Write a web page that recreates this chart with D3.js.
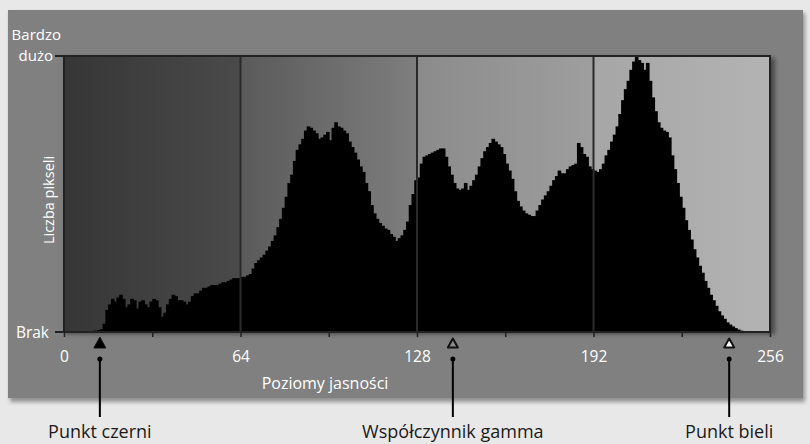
<!DOCTYPE html>
<html>
<head>
<meta charset="utf-8">
<script src="https://cdn.jsdelivr.net/npm/d3@7"></script>
<style>
  html, body { margin: 0; padding: 0; background: #e8e8e8; }
  svg { display: block; }
  text { font-family: "Open Sans", "Noto Sans", sans-serif; }
</style>
</head>
<body>
<svg id="chart" width="810" height="444"></svg>
<script>
// ---- data ----
const levelTicks = [0, 64, 128, 192, 256];
const minorTicks = [0, 32, 64, 96, 128, 160, 192, 224, 256];
const yLabelsTop = ["Bardzo", "dużo"];
const yLabelBottom = "Brak";
const yTitle = "Liczba pikseli";
const xTitle = "Poziomy jasności";
const markerLevels = [13, 141, 241.2];
const markerNames = ["Punkt czerni", "Współczynnik gamma", "Punkt bieli"];
const markerKinds = ["black", "gray", "white"];
// pixel counts per brightness level, as % of maximum (levels 0..255)
const counts0 = [
  0,0,0,0,0,0,0,0,0.3,0.3,0.4,0.5,0.7,1,3,8,
  10,12,11,12.5,13.5,12,9,10,12,11.5,8.5,11,11.5,10,9,11,
  12,11.5,9,5.5,7,10,12,13.5,13,11.5,11.5,11,10,11,13,14,
  14,15,16,16,16.5,17,17,17,17.5,18,18,18.5,19,19.5,19.5,19.5
];
const counts1 = [
  20,20,20.5,21,23,25,26,27,28,29.5,31,33,35,38,41,45,
  49,54,57,62,66,68,70,73,74.5,74,73,72,70,70.5,71.5,72.5,
  69.5,74,76,74.5,74,73,72,69,67,65,62.5,60,58,54,51,46,
  43,41,39.5,38.5,37.5,37,35.5,34.5,33,34,35,37,40,46,50,55
];
const counts2 = [
  56,61,63.5,64,64.5,65,65.5,66,66.5,66.5,63.5,60,57,54,52,51.5,
  52,54,51.5,53,55,57,60,63,65.5,67,68.5,70,69,68,67,64.5,
  61,58.5,55.5,51,47.5,45.5,44,43,42.5,42,42,44,46,48,49.5,51,
  53,55,56.5,58.5,57.5,57.5,59,60,60.5,61,68.5,67,64.5,63.5,60,59
];
const counts3 = [
  58.5,58,59,61,64,66,69,71.5,74.5,79,84,88,91,95,98,100,
  98.5,97.5,95,97.5,91,85,80,76,74,73,72.5,70.5,64,59,54,49,
  45,40.5,37,33.5,30,27,24,21.5,18.5,16,13.5,11.5,9.5,7.5,6,4.8,
  3.5,2.7,2,1.4,0.9,0.5,0.3,0.1,0,0,0,0,0,0,0,0
];
const counts = counts0.concat(counts1, counts2, counts3);

// ---- layout ----
const svg = d3.select("#chart");
const plot = { left: 64, right: 770, top: 56, bottom: 332 };
const x = d3.scaleLinear().domain([0, 256]).range([plot.left, plot.right]);
const y = d3.scaleLinear().domain([0, 100]).range([plot.bottom, plot.top]);

const defs = svg.append("defs");
const blur = defs.append("filter").attr("id", "shadow").attr("x", "-5%").attr("y", "-5%").attr("width", "110%").attr("height", "115%");
blur.append("feGaussianBlur").attr("stdDeviation", 2);

// panel shadow + panel
svg.append("rect").attr("x", 10).attr("y", 13).attr("width", 795).attr("height", 389)
  .attr("fill", "#555").attr("opacity", 0.6).attr("filter", "url(#shadow)");
svg.append("rect").attr("x", 8).attr("y", 10).attr("width", 795).attr("height", 388)
  .attr("fill", "#808080");

// plot frame shadow
svg.append("rect").attr("x", plot.left + 2).attr("y", plot.top + 2)
  .attr("width", plot.right - plot.left + 3).attr("height", plot.bottom - plot.top)
  .attr("fill", "#333").attr("opacity", 0.7).attr("filter", "url(#shadow)");

// background zones with gradients
const zoneColors = [["#363636", "#4a4a4a"], ["#5a5a5a", "#7e7e7e"], ["#8b8b8b", "#9e9e9e"], ["#a6a6a6", "#b3b3b3"]];
const zones = d3.range(4).map(i => ({ x0: i * 64, x1: (i + 1) * 64, c: zoneColors[i] }));
zones.forEach((z, i) => {
  const g = defs.append("linearGradient").attr("id", "zone" + i).attr("x1", "0").attr("x2", "1").attr("y1", "0").attr("y2", "0");
  g.append("stop").attr("offset", "0").attr("stop-color", z.c[0]);
  g.append("stop").attr("offset", "1").attr("stop-color", z.c[1]);
});
svg.append("g").selectAll("rect").data(zones).join("rect")
  .attr("x", d => x(d.x0)).attr("y", plot.top)
  .attr("width", d => x(d.x1) - x(d.x0)).attr("height", plot.bottom - plot.top)
  .attr("fill", (d, i) => `url(#zone${i})`);

// histogram bars
svg.append("g").selectAll("rect").data(counts).join("rect")
  .attr("x", (d, i) => x(i))
  .attr("y", d => y(d))
  .attr("width", (d, i) => x(i + 1) - x(i) + 0.9)
  .attr("height", d => y(0) - y(d))
  .attr("fill", "#000");

// separators
svg.append("g").selectAll("line").data([64, 128, 192]).join("line")
  .attr("x1", d => x(d)).attr("x2", d => x(d))
  .attr("y1", plot.top).attr("y2", plot.bottom)
  .attr("stroke", "#2a2a2a").attr("stroke-width", 2);

// frame
svg.append("rect").attr("x", plot.left).attr("y", plot.top)
  .attr("width", plot.right - plot.left).attr("height", plot.bottom - plot.top)
  .attr("fill", "none").attr("stroke", "#222").attr("stroke-width", 2);

// x axis
const xAxis = d3.axisBottom(x).tickValues(minorTicks).tickSizeInner(5).tickSizeOuter(0).tickPadding(14)
  .tickFormat(d => levelTicks.includes(d) ? d : "");
const gx = svg.append("g").attr("transform", `translate(0,${plot.bottom})`).call(xAxis);
gx.select(".domain").remove();
gx.selectAll(".tick line").attr("stroke", "#222").attr("stroke-width", 1.5);
gx.selectAll(".tick text").attr("fill", "#fff").attr("font-size", 15.5)
  .attr("font-family", "'Open Sans', 'Noto Sans', sans-serif");

// y ticks
svg.append("g").selectAll("line").data([100, 0]).join("line")
  .attr("x1", plot.left - 9).attr("x2", plot.left)
  .attr("y1", d => y(d)).attr("y2", d => y(d))
  .attr("stroke", "#222").attr("stroke-width", 2);

svg.append("text").attr("x", 61).attr("y", 40).attr("text-anchor", "end")
  .attr("fill", "#fff").attr("font-size", 15).text(yLabelsTop[0]);
svg.append("text").attr("x", 53).attr("y", 61).attr("text-anchor", "end")
  .attr("fill", "#fff").attr("font-size", 15).text(yLabelsTop[1]);
svg.append("text").attr("x", 49).attr("y", y(0) + 5.5).attr("text-anchor", "end")
  .attr("fill", "#fff").attr("font-size", 15.5).text(yLabelBottom);
svg.append("text").attr("transform", `translate(54,${(plot.top + plot.bottom) / 2 + 6}) rotate(-90)`)
  .attr("text-anchor", "middle").attr("fill", "#fff").attr("font-size", 14.5).text(yTitle);

// x title
svg.append("text").attr("x", 325).attr("y", 389).attr("text-anchor", "middle")
  .attr("fill", "#fff").attr("font-size", 16).text(xTitle);

// markers
const markers = markerLevels.map((l, i) => ({ level: l, name: markerNames[i], kind: markerKinds[i] }));
const mg = svg.append("g").selectAll("g").data(markers).join("g")
  .attr("transform", d => `translate(${x(d.level)},0)`);
mg.append("path")
  .attr("d", d => d.kind === "black" ? "M0,337 L6,348 L-6,348 Z" : "M0,338.5 L5,347.5 L-5,347.5 Z")
  .attr("fill", d => d.kind === "black" ? "#000" : d.kind === "white" ? "#fff" : "#8a8a8a")
  .attr("stroke", "#111").attr("stroke-width", d => d.kind === "black" ? 1 : 2)
  .attr("stroke-linejoin", "round");
mg.append("circle").attr("cx", 0).attr("cy", 359).attr("r", 2.5).attr("fill", "#000");
mg.append("line").attr("x1", 0).attr("x2", 0).attr("y1", 359).attr("y2", 417)
  .attr("stroke", "#000").attr("stroke-width", 2);
mg.append("text").attr("x", 0).attr("y", 438).attr("text-anchor", "middle")
  .attr("fill", "#1a1a1a").attr("font-size", 18).text(d => d.name);
</script>
</body>
</html>
